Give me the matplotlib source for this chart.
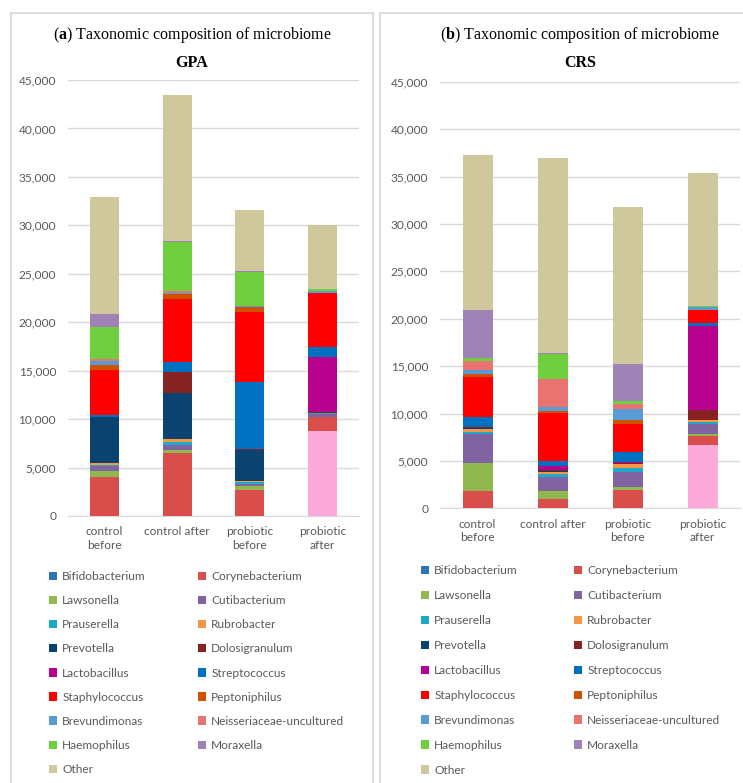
import matplotlib
matplotlib.use("Agg")
import matplotlib.pyplot as plt
from matplotlib.patches import Rectangle
from matplotlib.ticker import FuncFormatter
import numpy as np

# Taxa in stacking order (bottom to top); the first one has no legend entry
taxa = ["", "Bifidobacterium", "Corynebacterium", "Lawsonella", "Cutibacterium",
        "Prauserella", "Rubrobacter", "Prevotella", "Dolosigranulum",
        "Lactobacillus", "Streptococcus", "Staphylococcus", "Peptoniphilus",
        "Brevundimonas", "Neisseriaceae-uncultured", "Haemophilus",
        "Moraxella", "Other"]
colors = ["#FDAADB", "#2E75B6", "#D94E4B", "#8FB84E", "#8064A2",
          "#1FA8C8", "#F79646", "#0B4370", "#862222",
          "#B8008F", "#0070C0", "#FF0000", "#CF5200",
          "#5B9BD5", "#E87370", "#6FCF3F",
          "#A083B6", "#CEC89C"]

groups = ["control\nbefore", "control after", "probiotic\nbefore", "probiotic\nafter"]

# GPA read counts per taxon, one list per group
gpa_control_before = [0, 30, 3950, 620, 520, 170, 150, 4750, 30, 0, 200, 4680, 440, 490, 170, 3330, 1310, 12070]
gpa_control_after = [0, 30, 6450, 330, 530, 320, 260, 4740, 2230, 0, 1030, 6440, 580, 100, 180, 5090, 50, 15090]
gpa_probiotic_before = [0, 30, 2620, 480, 200, 130, 120, 3270, 30, 0, 6980, 7160, 550, 100, 50, 3510, 30, 6320]
gpa_probiotic_after = [8770, 20, 1420, 50, 250, 80, 50, 30, 30, 5750, 990, 5550, 50, 150, 50, 160, 20, 6610]

# CRS read counts per taxon, one list per group
crs_control_before = [0, 30, 1800, 2930, 3090, 240, 320, 100, 30, 50, 1080, 4220, 290, 420, 950, 310, 5070, 16350]
crs_control_after = [0, 30, 950, 840, 1450, 350, 200, 150, 40, 420, 600, 5030, 250, 390, 2980, 2640, 30, 20650]
crs_probiotic_before = [0, 30, 1900, 350, 1580, 420, 360, 80, 30, 100, 1130, 2950, 350, 1230, 460, 320, 3970, 16530]
crs_probiotic_after = [6680, 20, 960, 140, 1090, 200, 200, 50, 980, 8860, 320, 1370, 100, 250, 50, 100, 20, 13950]

W, H = 743, 783
plt.rcParams["font.family"] = ["Lato", "DejaVu Sans"]
plt.rcParams["mathtext.fontset"] = "custom"
plt.rcParams["mathtext.rm"] = "Liberation Serif"
plt.rcParams["mathtext.bf"] = "Liberation Serif:bold"

fig = plt.figure(figsize=(W / 100, H / 100), dpi=100)
fig.patch.set_facecolor("white")

TXT = "#595959"
GRID = "#D9D9D9"


def px_rect(left, top, right, bottom):
    return [left / W, 1 - bottom / H, (right - left) / W, (bottom - top) / H]


def draw_panel(rect, data, letter, name, title_x, legend_x, legend_y, spacing, frame):
    # panel frame
    fl, ft, fr = frame
    fig.add_artist(Rectangle((fl / W, -0.05), (fr - fl) / W, 1.05 - ft / H,
                             transform=fig.transFigure, fill=False,
                             edgecolor=GRID, linewidth=1.3))
    ax = fig.add_axes(px_rect(*rect))
    x = np.arange(len(groups))
    vals = np.array(data, dtype=float).T  # taxa x groups
    bottom = np.zeros(len(groups))
    handles = []
    for i, (t, c) in enumerate(zip(taxa, colors)):
        b = ax.bar(x, vals[i], bottom=bottom, width=0.4, color=c,
                   linewidth=0, zorder=3, label=t if t else None)
        bottom += vals[i]
        if t:
            handles.append(b)
    ax.set_xlim(-0.5, 3.5)
    ax.set_ylim(0, 45000)
    ax.set_yticks(np.arange(0, 45001, 5000))
    ax.yaxis.set_major_formatter(FuncFormatter(lambda v, p: f"{int(v):,}"))
    ax.grid(axis="y", color=GRID, linewidth=1.0, zorder=0)
    for s in ["top", "right", "left"]:
        ax.spines[s].set_visible(False)
    ax.spines["bottom"].set_color(GRID)
    ax.set_xticks(x)
    ax.set_xticklabels(groups, linespacing=1.3)
    ax.tick_params(axis="both", length=0, colors=TXT, labelsize=8.6)
    ax.tick_params(axis="y", pad=8.5)
    ax.tick_params(axis="x", pad=7.5)

    # title
    fig.text(title_x / W, 1 - 35 / H,
             r"($\mathbf{" + letter + r"}$) Taxonomic composition of microbiome",
             ha="center", va="center", fontsize=11.5, family="Liberation Serif",
             color="black")
    fig.text(title_x / W, 1 - 63 / H, name, ha="center", va="center",
             fontsize=11.5, family="Liberation Serif", fontweight="bold",
             color="black")

    # legend in two columns reading row-wise
    col1 = [handles[i] for i in range(0, len(handles), 2)]
    col2 = [handles[i] for i in range(1, len(handles), 2)]
    lab1 = [h.get_label() for h in col1]
    lab2 = [h.get_label() for h in col2]
    kw = dict(frameon=False, fontsize=8.6, labelcolor=TXT, handlelength=0.7,
              handleheight=0.7, handletextpad=0.4, labelspacing=spacing,
              borderpad=0, borderaxespad=0, loc="upper left")
    fig.legend(col1, lab1, bbox_to_anchor=(legend_x[0] / W, 1 - legend_y / H), **kw)
    fig.legend(col2, lab2, bbox_to_anchor=(legend_x[1] / W, 1 - legend_y / H), **kw)
    return ax


draw_panel((68, 80, 359, 516),
           [gpa_control_before, gpa_control_after, gpa_probiotic_before, gpa_probiotic_after],
           "a", "GPA", 192, (49, 198), 571, 1.1, (11, 13, 373))
draw_panel((440, 81.7, 740, 508.3),
           [crs_control_before, crs_control_after, crs_probiotic_before, crs_probiotic_after],
           "b", "CRS", 580, (421, 574), 565, 1.17, (380, 13, 760))

fig.savefig("out.png", dpi=100, facecolor="white")
